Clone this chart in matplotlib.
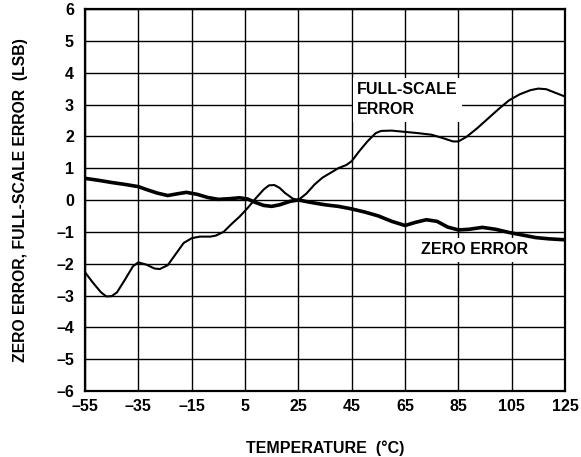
import matplotlib
matplotlib.use('Agg')
from matplotlib import pyplot as plt

plt.rcParams['font.family'] = ['Liberation Sans', 'DejaVu Sans']
plt.rcParams['font.weight'] = 'bold'

# full-scale error vs temperature
fs_temp = [-55, -52, -49, -47, -45, -43, -40, -37, -35, -32, -29, -27, -24, -21, -18, -15,
           -12, -8, -6, -3, 0, 3, 6, 9, 12, 14, 16, 18, 20, 23, 25, 28, 31, 34, 37, 40,
           43, 45, 48, 51, 54, 56, 60, 65, 70, 75, 79, 83, 85, 88, 92, 96, 100, 104,
           108, 112, 115, 118, 121, 125]
fs_err = [-2.27, -2.6, -2.9, -3.03, -3.02, -2.9, -2.5, -2.08, -1.96, -2.03, -2.15, -2.17, -2.05,
          -1.7, -1.35, -1.2, -1.15, -1.15, -1.12, -1.0, -0.75, -0.52, -0.25, 0.05, 0.33,
          0.46, 0.47, 0.38, 0.22, 0.04, 0.0, 0.2, 0.48, 0.7, 0.85, 1.0, 1.1, 1.22, 1.55, 1.85,
          2.1, 2.17, 2.18, 2.14, 2.1, 2.05, 1.95, 1.84, 1.84, 1.98, 2.25, 2.55, 2.85,
          3.13, 3.32, 3.45, 3.5, 3.48, 3.38, 3.25]

# zero error vs temperature
z_temp = [-55, -50, -45, -40, -35, -32, -28, -24, -20, -17, -13, -9, -5, -1, 3, 6, 9,
          12, 15, 18, 22, 25, 30, 35, 40, 45, 50, 55, 60, 65, 69, 73, 77, 81, 85, 89,
          94, 99, 104, 109, 114, 119, 125]
z_err = [0.68, 0.62, 0.55, 0.49, 0.42, 0.33, 0.22, 0.14, 0.2, 0.24, 0.18, 0.08, 0.02,
         0.04, 0.07, 0.03, -0.08, -0.17, -0.2, -0.15, -0.04, 0.0, -0.08, -0.15, -0.2,
         -0.28, -0.38, -0.5, -0.67, -0.8, -0.7, -0.62, -0.67, -0.85, -0.94, -0.92,
         -0.86, -0.92, -1.02, -1.1, -1.18, -1.22, -1.25]

x_ticks = list(range(-55, 126, 20))
y_ticks = list(range(-6, 7))

fig = plt.figure(figsize=(5.81, 4.57), dpi=100)
ax = fig.add_axes([0.1463, 0.1444, 0.8262, 0.8359])

ax.plot(fs_temp, fs_err, color='black', lw=1.5, solid_joinstyle='round', zorder=3)
ax.plot(z_temp, z_err, color='black', lw=2.6, solid_joinstyle='round', zorder=3)

ax.set_xlim(-55, 125)
ax.set_ylim(-6, 6)
ax.set_xticks(x_ticks)
ax.set_xticklabels([str(t).replace('-', '\u2013') for t in x_ticks])
ax.set_yticks(y_ticks)
ax.set_yticklabels([str(t).replace('-', '\u2013') for t in y_ticks])
ax.tick_params(length=0, labelsize=11.5, pad=6)
ax.tick_params(axis='y', pad=8)
ax.grid(True, color='black', lw=1.0)
ax.set_axisbelow(True)
for s in ax.spines.values():
    s.set_linewidth(1.6)

ax.set_xlabel('TEMPERATURE  (°C)', fontsize=11.5, fontweight='bold', labelpad=19)
ax.set_ylabel('ZERO ERROR, FULL-SCALE ERROR  (LSB)', fontsize=11.3, fontweight='bold', labelpad=20)

ax.text(47, 3.15, 'FULL-SCALE\nERROR', fontsize=11.5, fontweight='bold', ha='left', va='center',
        linespacing=1.45, bbox=dict(facecolor='white', edgecolor='none', pad=3), zorder=2)
ax.text(90.9, -1.57, 'ZERO ERROR', fontsize=11.5, fontweight='bold', ha='center', va='center',
        bbox=dict(facecolor='white', edgecolor='none', pad=3), zorder=2)

fig.savefig('out.png', dpi=100)
